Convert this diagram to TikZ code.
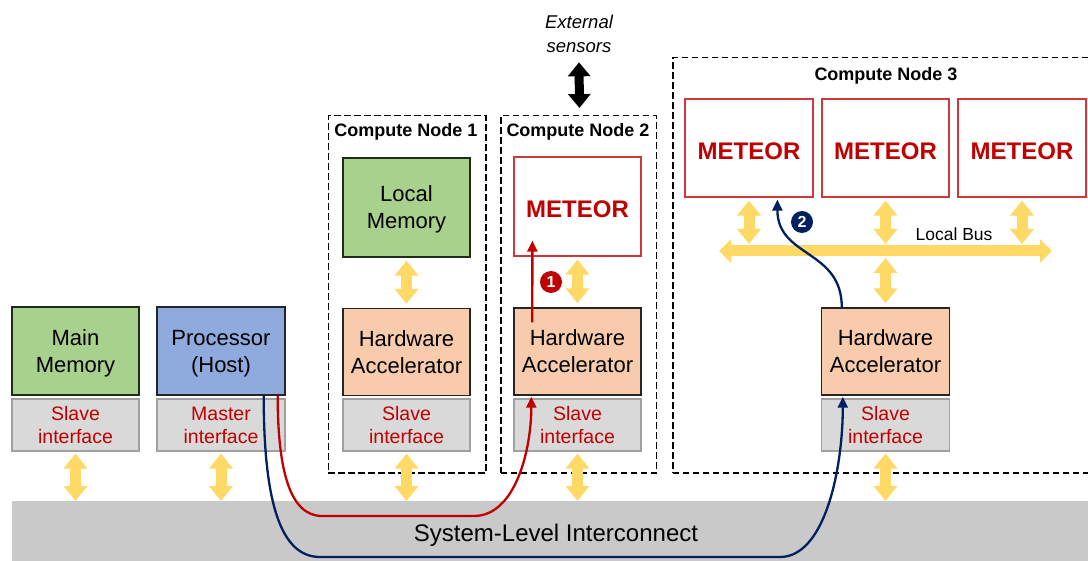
\documentclass[tikz,border=0pt]{standalone}
\usepackage{fontspec}
\setmainfont{Liberation Sans}
\usetikzlibrary{arrows.meta,calc}

\definecolor{memgreen}{HTML}{A9D18E}
\definecolor{hostblue}{HTML}{8FAADC}
\definecolor{accpeach}{HTML}{F8CBAD}
\definecolor{ifgray}{HTML}{D9D9D9}
\definecolor{ifborder}{HTML}{A0A0A0}
\definecolor{busgray}{HTML}{C9C9C9}
\definecolor{txtred}{HTML}{C00000}
\definecolor{metborder}{HTML}{D0393B}
\definecolor{ylw}{HTML}{FFD966}
\definecolor{navy}{HTML}{002060}
\definecolor{boxline}{HTML}{262626}

\begin{document}
\begin{tikzpicture}[x=1pt,y=-1pt,
  block/.style={draw=boxline, line width=1.4pt, inner sep=0pt, align=center,
    minimum width=127pt, text depth=0pt, font=\fontsize{22}{27}\selectfont},
  mem/.style={block, fill=memgreen, draw=black!80!memgreen},
  host/.style={block, fill=hostblue},
  accel/.style={block, fill=accpeach, minimum height=87pt},
  iface/.style={draw=ifborder, line width=1.2pt, fill=ifgray, inner sep=0pt,
    align=center, minimum width=127pt, minimum height=52pt,
    text=txtred, font=\fontsize{19.5}{23}\selectfont},
  meteor/.style={draw=metborder, line width=1.2pt, fill=white, inner sep=0pt,
    minimum width=127pt, minimum height=98pt, text=txtred,
    text height=23pt, text depth=0pt,
    font=\fontsize{24}{28}\selectfont\bfseries},
  cnbox/.style={draw=black, line width=1.5pt, dash pattern=on 6.5pt off 3.5pt,
    inner sep=0pt},
  cntitle/.style={font=\fontsize{18}{21}\selectfont\bfseries},
  yarrow/.style={draw=ylw, line width=11pt,
    {Triangle[width=23pt,length=15pt]}-{Triangle[width=23pt,length=15pt]}},
  busarrow/.style={draw=ylw, line width=11pt,
    {Triangle[width=23pt,length=12pt]}-{Triangle[width=23pt,length=12pt]}},
  karrow/.style={draw=black, line width=9pt,
    {Triangle[width=22pt,length=14pt]}-{Triangle[width=22pt,length=14pt]}},
  flow/.style={line width=2.3pt, -{Triangle[width=10pt,length=11pt]}},
  badge/.style={circle, inner sep=0pt, minimum size=22pt, text=white,
    font=\fontsize{16}{16}\selectfont\bfseries}]

\useasboundingbox (0,0) rectangle (1088,561);

% system-level interconnect band
\node[fill=busgray, inner sep=0pt, minimum width=1088pt, minimum height=60pt,
  anchor=north west] (ic) at (12,501) {};
\node[font=\fontsize{24}{28}\selectfont] (iclabel) at (556,535) {System-Level Interconnect};

% compute node frames
\node[cnbox, minimum width=157.5pt, minimum height=357.5pt, anchor=north west] (cn1) at (327.5,115) {};
\node[cnbox, minimum width=155.5pt, minimum height=357.5pt, anchor=north west] (cn2) at (500,115) {};
\node[cnbox, minimum width=430pt, minimum height=415.5pt, anchor=north west] (cn3) at (672,57) {};
\node[cntitle] (t1) at (406,132) {Compute Node 1};
\node[cntitle] (t2) at (578,132) {Compute Node 2};
\node[cntitle] (t3) at (886,76) {Compute Node 3};

% host side
\node[mem, minimum height=88pt] (mm) at (75.5,351) {Main\\Memory};
\node[iface] (mmif) at (75.5,425) {Slave\\interface};
\node[host, minimum width=128pt, minimum height=88pt] (cpu) at (221,351) {Processor\\(Host)};
\node[iface, minimum width=128pt] (cpuif) at (221,425) {Master\\interface};

% compute node 1
\node[mem, minimum height=99pt] (lm) at (406.5,207.5) {Local\\Memory};
\node[accel] (ha1) at (406.5,352) {Hardware\\Accelerator};
\node[iface] (if1) at (406.5,425) {Slave\\interface};

% compute node 2
\node[meteor, minimum height=99pt] (met2) at (577.5,206.5) {METEOR};
\node[accel] (ha2) at (577.5,351.5) {Hardware\\Accelerator};
\node[iface] (if2) at (577.5,425) {Slave\\interface};

% compute node 3
\node[meteor, minimum width=128pt] (m3a) at (749,148) {METEOR};
\node[meteor] (m3b) at (885.5,148) {METEOR};
\node[meteor, minimum width=128pt] (m3c) at (1022,148) {METEOR};
\node[accel, minimum width=128pt] (ha3) at (885.5,351.5) {Hardware\\Accelerator};
\node[iface, minimum width=128pt] (if3) at (885.5,425) {Slave\\interface};

% external sensors
\node[align=center, font=\fontsize{18.5}{24}\selectfont\itshape] (ext) at (579,34) {External\\sensors};
\draw[karrow] ($(ext.south)+(0,6)$) -- ($(cn2.north)+(1,-7)$);

% interface links to the interconnect
\foreach \n in {mmif,cpuif,if1,if2,if3}
  \draw[yarrow] ($(\n.south)+(0,2)$) -- (\n.south |- ic.north);

% local links
\draw[yarrow] ($(lm.south)+(0,3)$) -- ($(ha1.north)+(0,-4)$);
\draw[yarrow] ($(met2.south)+(0,3)$) -- ($(ha2.north)+(0,-4)$);

% local bus of compute node 3
\coordinate (busL) at (719,251);
\coordinate (busR) at (1052,251);
\draw[busarrow] (busL) -- (busR);
\node[font=\fontsize{17.5}{20}\selectfont] (buslabel) at (954,234) {Local Bus};
\foreach \n in {m3a,m3b,m3c}
  \draw[yarrow] ($(\n.south)+(0,3)$) -- ($(\n.south |- busL)+(0,-7)$);
\draw[yarrow] ($(m3b.south |- busL)+(0,7)$) -- ($(ha3.north)+(0,-4)$);

% flow 1: host to accelerator 2, then into METEOR
\draw[flow, txtred] ($(cpu.south east)+(-8,0)$)
  .. controls +(0,75) and (290,516) .. (322,516)
  -- (474,516)
  .. controls (515,516) and ($(ha2.south west)+(18,55)$) .. ($(ha2.south west)+(18,1)$);
\draw[flow, txtred] ($(ha2.north west)+(19,15)$) -- ($(met2.south west)+(19,-16)$);
\node[badge, fill=txtred] (b1) at (551,282) {1};

% flow 2: host to accelerator 3, then onto the local bus
\draw[flow, navy] ($(cpu.south east)+(-22,0)$)
  .. controls +(0,105) and (280,557) .. (320,557)
  -- (780,557)
  .. controls (825,557) and ($(ha3.south west)+(22,73)$) .. ($(ha3.south west)+(22,1)$);
\draw[flow, navy] ($(ha3.north west)+(21,0)$)
  .. controls +(0,-58) and ($(m3a.south west)+(93,60)$) .. ($(m3a.south west)+(93,2)$);
\node[badge, fill=navy] (b2) at (802,222) {2};

\end{tikzpicture}
\end{document}
